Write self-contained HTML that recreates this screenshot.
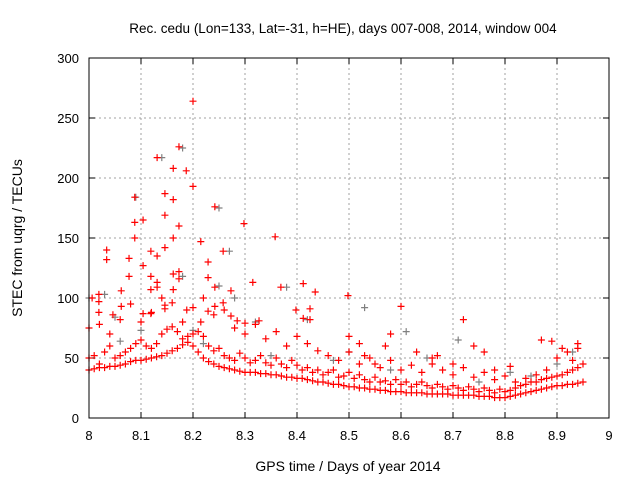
<!DOCTYPE html>
<html><head><meta charset="utf-8"><style>
body{margin:0;background:#fff}
svg{display:block;font-family:"Liberation Sans",sans-serif}
</style></head><body>
<svg id="chart" width="640" height="480">
<rect width="640" height="480" fill="#fff"/>
<text x="343" y="33" font-size="13.5" text-anchor="middle">Rec. cedu (Lon=133, Lat=-31, h=HE), days 007-008, 2014, window 004</text>
<text x="348" y="471" font-size="14" text-anchor="middle">GPS time / Days of year 2014</text>
<text transform="translate(22,238) rotate(-90)" font-size="14" text-anchor="middle">STEC from uqrg / TECUs</text>
<g id="grid"></g><g id="axes"></g><g id="gray"></g><g id="red"></g>
<rect x="89" y="58" width="520" height="360" fill="none" stroke="#000" stroke-width="1"/>
</svg>
<script>
const xTicks=[8,8.1,8.2,8.3,8.4,8.5,8.6,8.7,8.8,8.9,9];
const xTickLabels=["8","8.1","8.2","8.3","8.4","8.5","8.6","8.7","8.8","8.9","9"];
const yTicks=[0,50,100,150,200,250,300];
const yTickLabels=["0","50","100","150","200","250","300"];
const trackAx=[8.00,8.01,8.02,8.03,8.04,8.05,8.06,8.07,8.08,8.09,8.10,8.11,8.12,8.13,8.14,8.15,8.16,8.17,8.18,8.19,8.20,8.21,8.22,8.23,8.24,8.25,8.26,8.27,8.28,8.29,8.30,8.31,8.32,8.33,8.34,8.35,8.36,8.37,8.38,8.39,8.40,8.41,8.42,8.43,8.44,8.45,8.46,8.47,8.48,8.49,8.50,8.51,8.52,8.53,8.54,8.55,8.56,8.57,8.58,8.59,8.60,8.61,8.62,8.63,8.64,8.65,8.66,8.67,8.68,8.69,8.70,8.71,8.72,8.73,8.74,8.75,8.76,8.77,8.78,8.79,8.80,8.81,8.82,8.83,8.84,8.85,8.86,8.87,8.88,8.89,8.90,8.91,8.92,8.93,8.94,8.95];
const trackAy=[40,41,42,42,43,43,44,45,47,48,48,49,50,51,52,54,56,58,61,63,60,55,50,47,45,43,42,41,40,39,38,38,38,37,37,36,36,35,34,34,33,33,32,31,30,30,29,28,28,27,26,26,25,25,24,24,23,23,22,22,22,21,21,21,21,20,20,20,20,20,19,19,19,19,19,18,18,18,17,17,17,18,19,20,21,22,23,24,25,26,27,27,28,28,29,30];
const trackBy=[50,52,45,55,60,50,52,55,58,62,65,60,58,62,70,74,76,72,66,68,70,72,68,60,56,58,52,50,48,54,50,46,48,52,46,44,50,45,42,48,44,40,42,38,40,36,38,40,34,35,38,33,36,32,30,34,30,31,28,32,28,30,26,28,30,27,25,28,26,24,27,25,23,26,24,22,25,23,21,24,22,23,25,27,28,30,30,32,33,34,35,36,38,40,42,45];
const trackCx=[8.00,8.02,8.04,8.06,8.08,8.10,8.12,8.14,8.16,8.18,8.20,8.22,8.24,8.26,8.28,8.30,8.32,8.34,8.36,8.38,8.40,8.42,8.44,8.46,8.48,8.50,8.52,8.54,8.56,8.58,8.60,8.62,8.64,8.66,8.68,8.70,8.72,8.74,8.76,8.78,8.80,8.82,8.84,8.86,8.88,8.90,8.92,8.94];
const trackCy=[75,78,70,82,95,80,88,100,96,80,92,100,86,90,75,70,78,66,72,60,68,62,56,52,48,55,45,50,42,48,40,44,38,45,40,36,42,34,38,32,35,30,33,36,40,50,55,58];
const scatX=[8.200,8.173,8.131,8.162,8.187,8.200,8.088,8.146,8.162,8.242,8.088,8.104,8.146,8.173,8.298,8.088,8.162,8.358,8.215,8.034,8.034,8.077,8.119,8.131,8.146,8.258,8.104,8.229,8.077,8.119,8.162,8.173,8.173,8.229,8.131,8.131,8.119,8.062,8.162,8.242,8.273,8.315,8.369,8.412,8.435,8.498,8.006,8.019,8.019,8.019,8.046,8.062,8.104,8.119,8.146,8.146,8.188,8.258,8.242,8.229,8.273,8.398,8.425,8.215,8.285,8.300,8.327,8.412,8.425,8.50,8.53,8.55,8.57,8.58,8.60,8.63,8.67,8.70,8.72,8.74,8.76,8.78,8.87,8.89,8.91,8.94,8.52,8.66,8.81,8.93];
const scatY=[264,226,217,208,206,193,184,187,182,176,163,165,169,160,162,150,150,151,147,140,132,133,139,135,142,139,127,130,118,118,120,122,116,117,113,109,107,106,107,109,106,113,109,112,105,102,100,103,97,88,86,93,87,87,94,91,90,96,93,89,85,90,91,80,81,79,81,83,82,68,52,45,60,70,93,55,52,45,82,60,55,40,65,64,58,62,62,50,43,48];
const grayX=[8.00,8.03,8.05,8.09,8.10,8.14,8.18,8.18,8.20,8.25,8.25,8.27,8.28,8.32,8.38,8.42,8.50,8.53,8.61,8.65,8.71,8.81,8.90,8.93,8.06,8.22,8.35,8.47,8.58,8.75,8.85];
const grayY=[100,103,84,184,73,217,225,118,73,175,110,139,100,80,109,82,55,92,72,50,65,38,45,55,64,62,52,48,40,30,35];

const NS="http://www.w3.org/2000/svg";
const X0=89,X1=609,Y0=418,Y1=58;
function sx(v){return X0+(v-8)/(9-8)*(X1-X0);}
function sy(v){return Y0-(v-0)/(300-0)*(Y0-Y1);}
function mk(tag,attrs,parent){const e=document.createElementNS(NS,tag);for(const k in attrs)e.setAttribute(k,attrs[k]);parent.appendChild(e);return e;}
const grid=document.getElementById('grid'),axes=document.getElementById('axes');
xTicks.forEach((t,i)=>{
  const x=sx(t);
  if(i>0&&i<xTicks.length-1){const g=mk('line',{x1:x,x2:x,y1:Y1,y2:Y0,stroke:'#a0a0a0','stroke-dasharray':'2,3'},grid);
  
  }
  mk('line',{x1:x,x2:x,y1:Y0,y2:Y0-6,stroke:'#000'},axes);
  mk('line',{x1:x,x2:x,y1:Y1,y2:Y1+6,stroke:'#000'},axes);
  const l=mk('text',{x:x,y:Y0+22,'font-size':13,'text-anchor':'middle'},axes);l.textContent=xTickLabels[i];
  
  
});
yTicks.forEach((t,i)=>{
  const y=sy(t);
  if(i>0&&i<yTicks.length-1){const g=mk('line',{x1:X0,x2:X1,y1:y,y2:y,stroke:'#a0a0a0','stroke-dasharray':'2,3'},grid);
  
  }
  mk('line',{x1:X0,x2:X0+6,y1:y,y2:y,stroke:'#000'},axes);
  mk('line',{x1:X1,x2:X1-6,y1:y,y2:y,stroke:'#000'},axes);
  const l=mk('text',{x:X0-10,y:y+5,'font-size':13,'text-anchor':'end'},axes);l.textContent=yTickLabels[i];
  
  
});
function plus(g,x,y,col){
  const p=mk('path',{d:`M${x-3.5},${y}h7M${x},${y-3.5}v7`,stroke:col,'stroke-width':1.2,fill:'none'},g);
  
  
}
const gg=document.getElementById('gray'),rg=document.getElementById('red');
grayX.forEach((x,i)=>plus(gg,sx(x),sy(grayY[i]),'#808080'));
trackAx.forEach((x,i)=>plus(rg,sx(x),sy(trackAy[i]),'#ff0000'));
trackAx.forEach((x,i)=>plus(rg,sx(x),sy(trackBy[i]),'#ff0000'));
trackCx.forEach((x,i)=>plus(rg,sx(x),sy(trackCy[i]),'#ff0000'));
scatX.forEach((x,i)=>plus(rg,sx(x),sy(scatY[i]),'#ff0000'));
</script>
</body></html>
